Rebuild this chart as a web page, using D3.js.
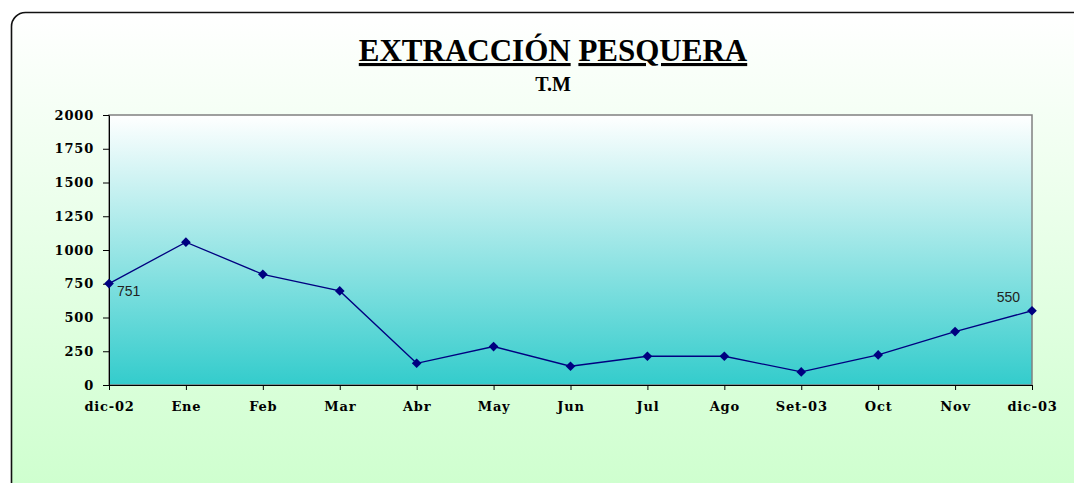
<!DOCTYPE html>
<html>
<head>
<meta charset="utf-8">
<script src="https://cdn.jsdelivr.net/npm/d3@7"></script>
<style>
  body { margin: 0; background: #fff; }
  .axis text { font-family: "DejaVu Serif", serif; font-weight: bold; font-size: 13px; letter-spacing: 0.8px; fill: #000; }
  .axis path, .axis line { stroke: #000; }
</style>
</head>
<body>
<div id="chart"></div>
<script>
const meses = ["dic-02", "Ene", "Feb", "Mar", "Abr", "May", "Jun", "Jul", "Ago", "Set-03", "Oct", "Nov", "dic-03"]
const toneladas = [751, 1058, 820, 697, 161, 285, 139, 213, 213, 97, 223, 396, 550]
const yTicks = [0, 250, 500, 750, 1000, 1250, 1500, 1750, 2000]

const width = 1074
const height = 483
const margin = { top: 115, bottom: 98, left: 109, right: 42 }
const innerW = width - margin.left - margin.right
const innerH = height - margin.top - margin.bottom

const svg = d3.select("div#chart").append("svg").attr("width", width).attr("height", height)

const defs = svg.append("defs")
const bgGrad = defs.append("linearGradient").attr("id", "bgGrad").attr("x1", 0).attr("y1", 0).attr("x2", 0).attr("y2", 1)
bgGrad.append("stop").attr("offset", "0%").attr("stop-color", "#ffffff")
bgGrad.append("stop").attr("offset", "100%").attr("stop-color", "#ccffcc")
const plotGrad = defs.append("linearGradient").attr("id", "plotGrad").attr("x1", 0).attr("y1", 0).attr("x2", 0).attr("y2", 1)
plotGrad.append("stop").attr("offset", "0%").attr("stop-color", "#ffffff")
plotGrad.append("stop").attr("offset", "100%").attr("stop-color", "#33cccc")

// marco redondeado (se sale por la derecha y por abajo)
svg.append("rect")
    .attr("x", 11.5).attr("y", 12.5)
    .attr("width", 1080).attr("height", 500)
    .attr("rx", 14)
    .style("fill", "url(#bgGrad)")
    .style("stroke", "#111")
    .style("stroke-width", 1.6)

// título: subrayado palabra por palabra
const title = svg.append("text")
    .attr("x", 553).attr("y", 61)
    .style("text-anchor", "middle")
    .style("font-family", "'Liberation Serif', 'Times New Roman', serif")
    .style("font-size", "31px")
    .style("font-weight", "bold")
title.append("tspan").style("text-decoration", "underline").text("EXTRACCIÓN")
title.append("tspan").text(" ")
title.append("tspan").style("text-decoration", "underline").text("PESQUERA")

svg.append("text")
    .attr("x", 553).attr("y", 91)
    .style("text-anchor", "middle")
    .style("font-family", "'Liberation Serif', 'Times New Roman', serif")
    .style("font-size", "20px")
    .style("font-weight", "bold")
    .text("T.M")

const x = d3.scalePoint().domain(meses).range([0, innerW])
const y = d3.scaleLinear().domain([0, 2000]).range([innerH, 0])

const elementGroup = svg.append("g").attr("transform", `translate(${margin.left},${margin.top})`)

elementGroup.append("rect")
    .attr("x", 0).attr("y", 0)
    .attr("width", innerW).attr("height", innerH)
    .style("fill", "url(#plotGrad)")
    .style("stroke", "#808080")
    .style("stroke-width", 1.5)

const xAxisGroup = elementGroup.append("g").attr("class", "axis")
    .attr("transform", `translate(0,${innerH})`)
    .call(d3.axisBottom(x).tickSize(5).tickSizeOuter(0).tickPadding(12))
const yAxisGroup = elementGroup.append("g").attr("class", "axis")
    .call(d3.axisLeft(y).tickValues(yTicks).tickFormat(d3.format("d")).tickSize(6).tickSizeOuter(0).tickPadding(9))

const data = meses.map((m, i) => ({ mes: m, valor: toneladas[i] }))

const line = d3.line()
    .x(d => x(d.mes))
    .y(d => y(d.valor))

elementGroup.append("path")
    .datum(data)
    .attr("d", line)
    .style("fill", "none")
    .style("stroke", "#000080")
    .style("stroke-width", 1.3)

elementGroup.selectAll(".punto").data(data)
    .enter()
    .append("path")
    .attr("class", "punto")
    .attr("d", d3.symbol().type(d3.symbolDiamond2).size(60))
    .attr("transform", d => `translate(${x(d.mes)},${y(d.valor)})`)
    .style("fill", "#000080")

// etiquetas en el primer y último punto
const first = data[0]
const last = data[data.length - 1]
elementGroup.append("text")
    .attr("x", x(first.mes) + 8).attr("y", y(first.valor) + 12)
    .style("font-family", "'Liberation Sans', Arial, sans-serif")
    .style("font-size", "14px")
    .style("fill", "#222")
    .text(first.valor)
elementGroup.append("text")
    .attr("x", x(last.mes) - 12).attr("y", y(last.valor) - 9)
    .style("text-anchor", "end")
    .style("font-family", "'Liberation Sans', Arial, sans-serif")
    .style("font-size", "14px")
    .style("fill", "#222")
    .text(last.valor)
</script>
</body>
</html>
